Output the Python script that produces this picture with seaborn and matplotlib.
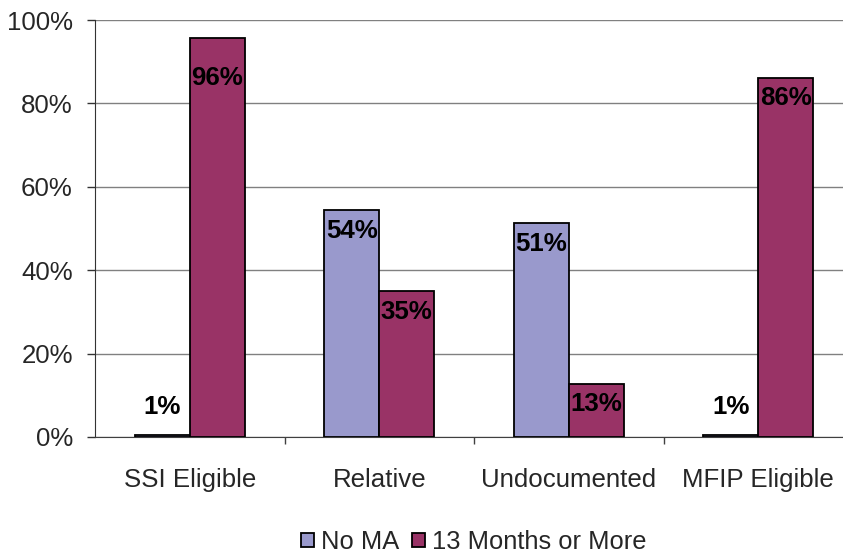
import matplotlib
matplotlib.use("Agg")
import matplotlib.pyplot as plt
from matplotlib.ticker import FixedLocator, FuncFormatter
import seaborn as sns
import pandas as pd

categories = ["SSI Eligible", "Relative", "Undocumented", "MFIP Eligible"]
series = ["No MA", "13 Months or More"]
no_ma = [0.5, 54.5, 51.2, 0.5]
months_13 = [95.7, 34.9, 12.8, 86.2]
labels_no_ma = ["1%", "54%", "51%", "1%"]
labels_13 = ["96%", "35%", "13%", "86%"]

df = pd.DataFrame({
    "category": categories * 2,
    "series": [series[0]] * 4 + [series[1]] * 4,
    "value": no_ma + months_13,
})

sns.set_style("white")
plt.rcParams["font.family"] = ["Liberation Sans", "DejaVu Sans"]
FS = 18.6

fig = plt.figure(figsize=(8.43, 5.56), dpi=100)
ax = fig.add_axes([95 / 843, 1 - 437 / 556, 758 / 843, 417 / 556])

palette = {series[0]: "#9999CC", series[1]: "#993366"}
sns.barplot(data=df, x="category", y="value", hue="series", palette=palette,
            width=0.58, gap=0, edgecolor="black", linewidth=1.3,
            saturation=1, ax=ax, legend=True, zorder=3)

ax.set_ylim(0, 100)
ax.set_xlim(-0.5, 3.5)
ax.yaxis.set_major_locator(FixedLocator(range(0, 101, 20)))
ax.yaxis.set_major_formatter(FuncFormatter(lambda v, _: f"{int(v)}%"))
ax.grid(axis="y", color="#808080", linewidth=1, zorder=0)
ax.set_axisbelow(True)
ax.set_xlabel("")
ax.set_ylabel("")

for side in ["top", "right"]:
    ax.spines[side].set_visible(False)
ax.spines["left"].set_color("#333333")
ax.spines["bottom"].set_color("#404040")

ax.tick_params(axis="y", which="major", left=True, length=6, width=1,
               color="#333333", labelsize=FS, pad=10)
ax.tick_params(axis="x", which="major", bottom=False, labelsize=FS, pad=19)
ax.xaxis.set_minor_locator(FixedLocator([0.5, 1.5, 2.5, 3.5]))
ax.tick_params(axis="x", which="minor", bottom=True, length=5, width=1,
               color="#404040")

# value labels: inside bar top, except the tiny bars which sit above
for cont, labs in zip(ax.containers, [labels_no_ma, labels_13]):
    for bar, lab in zip(cont, labs):
        h = bar.get_height()
        x = bar.get_x() + bar.get_width() / 2
        if h < 5:
            dy = 20
        elif lab == "96%":
            dy = -29
        else:
            dy = -15
        ax.annotate(lab, (x, h), xytext=(0, dy), textcoords="offset points",
                    ha="center", va="center", fontsize=FS,
                    fontweight="bold", color="black", zorder=5)

# legend centred under the plot area
handles, texts = ax.get_legend_handles_labels()
ax.legend(handles, texts, loc="center",
          bbox_to_anchor=(474 / 843, 1 - 542 / 556),
          bbox_transform=fig.transFigure, ncol=2, frameon=False,
          fontsize=18.4, handlelength=0.5, handleheight=0.5,
          handletextpad=0.28, columnspacing=0.5, borderpad=0.2)

fig.savefig("out.png", dpi=100)
